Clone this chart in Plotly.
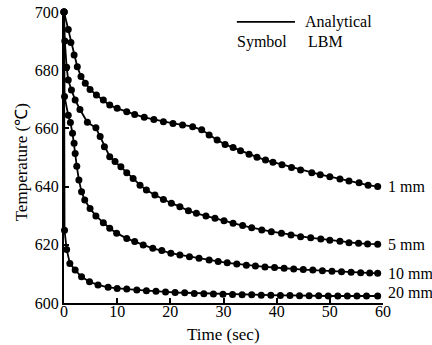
import plotly.graph_objects as go

# ---- data ----
t_1mm = [0, 0.8, 1.3, 1.9, 2.5, 3.2, 4.0, 4.9, 6.1, 7.4, 8.6, 10.0, 11.8, 13.3, 15.1, 16.9, 18.7, 20.5, 22.3, 24.2,
         25.9, 27.3, 28.8, 30.3, 31.8, 33.2, 34.8, 36.3, 37.9, 39.3, 41.0, 42.8, 44.5, 46.6, 48.2, 50.0, 51.9, 53.6,
         55.5, 57.2, 59.0]
T_1mm = [700, 694, 689.5, 685.2, 681.2, 677.8, 675.5, 673.4, 671.5, 669.8, 668.0, 666.9, 665.7, 664.8, 663.8, 663.1,
         662.3, 661.7, 661.2, 660.6, 659.5, 657.7, 656.0, 654.5, 653.4, 652.3, 651.1, 650.1, 649.1, 648.4, 647.5,
         646.6, 645.7, 644.8, 644.1, 643.4, 642.6, 641.9, 641.3, 640.5, 640.0]

t_5mm = [0, 0.15, 0.5, 0.8, 1.4, 2.1, 3.0, 4.4, 6.0, 6.8, 7.6, 8.6, 9.6, 10.7, 11.8, 13.0, 14.3, 15.5, 17.1, 18.7,
         20.2, 21.8, 23.4, 24.9, 26.7, 28.4, 30.1, 31.8, 33.6, 35.3, 37.2, 39.0, 40.9, 42.7, 44.5, 46.4, 48.3, 50.0,
         51.9, 53.6, 55.4, 57.1, 59.0]
T_5mm = [700, 690, 681, 676.6, 673.2, 669.8, 666.5, 662.1, 660.2, 657.2, 653.7, 650.3, 648.6, 646.8, 644.8, 642.8,
         640.5, 638.8, 637.1, 635.6, 634.3, 633.1, 631.7, 630.8, 629.9, 629.1, 628.3, 627.4, 626.6, 625.9, 625.1,
         624.5, 624.0, 623.4, 622.8, 622.4, 622.0, 621.6, 621.2, 620.7, 620.5, 620.3, 620.2]

t_10mm = [0, 0.1, 0.8, 1.2, 1.6, 1.9, 2.1, 2.4, 2.8, 3.3, 3.9, 4.9, 6.0, 7.4, 8.6, 9.9, 11.8, 13.3, 14.9, 16.7,
          18.4, 20.1, 21.8, 23.6, 25.4, 27.3, 29.0, 30.7, 32.5, 34.3, 36.0, 37.8, 39.6, 41.4, 43.2, 45.0, 46.8,
          48.6, 50.4, 52.2, 54.0, 55.8, 57.5, 59.0]
T_10mm = [700, 671, 664.5, 662, 658.3, 654.9, 651.4, 647, 642.3, 638.2, 635.4, 632.5, 629.9, 627.6, 625.7, 624.0,
          622.2, 621.1, 619.9, 618.8, 618.0, 617.1, 616.5, 615.9, 615.4, 614.8, 614.3, 613.8, 613.4, 613.0, 612.7,
          612.4, 612.2, 611.9, 611.7, 611.5, 611.3, 611.1, 610.9, 610.7, 610.6, 610.4, 610.3, 610.2]

t_20mm = [0, 0.1, 0.5, 1.1, 2.1, 3.3, 4.8, 6.4, 8.3, 10.0, 11.8, 13.7, 15.5, 17.3, 19.1, 20.9, 22.7, 24.5, 26.3,
          28.1, 29.9, 31.7, 33.5, 35.3, 37.1, 38.9, 40.7, 42.5, 44.3, 46.1, 47.9, 49.7, 51.5, 53.3, 55.1, 56.9, 59.0]
T_20mm = [700, 625, 618.4, 613.6, 611.3, 609.0, 607.3, 606.2, 605.4, 605.0, 604.8, 604.5, 604.2, 604.0, 603.8,
          603.6, 603.5, 603.3, 603.2, 603.1, 603.0, 602.9, 602.8, 602.8, 602.7, 602.7, 602.6, 602.6, 602.5, 602.5,
          602.5, 602.4, 602.4, 602.4, 602.4, 602.4, 602.4]

series = [("1 mm", t_1mm, T_1mm), ("5 mm", t_5mm, T_5mm), ("10 mm", t_10mm, T_10mm), ("20 mm", t_20mm, T_20mm)]
label_yshift = {"1 mm": 0, "5 mm": 0, "10 mm": 0, "20 mm": 4}

x_ticks = [0, 10, 20, 30, 40, 50, 60]
y_ticks = [600, 620, 640, 660, 680, 700]

FONT = "Liberation Serif"

fig = go.Figure()
for name, t, T in series:
    fig.add_trace(go.Scatter(x=t, y=T, mode="lines+markers", name=name,
                             line=dict(color="black", width=1.8),
                             marker=dict(color="black", size=7),
                             cliponaxis=False, showlegend=False))
    fig.add_annotation(x=60, y=T[-1], xref="x", yref="y", text=name, showarrow=False,
                       xanchor="left", yanchor="middle", xshift=3, yshift=label_yshift[name],
                       font=dict(family=FONT, size=16, color="black"))

# legend-like text block
fig.add_shape(type="line", xref="paper", yref="paper", x0=0.542, x1=0.724, y0=0.966, y1=0.966,
              line=dict(color="black", width=1.8))
fig.add_annotation(xref="paper", yref="paper", x=0.750, y=0.966, text="Analytical", showarrow=False,
                   xanchor="left", yanchor="middle", font=dict(family=FONT, size=16, color="black"))
fig.add_annotation(xref="paper", yref="paper", x=0.536, y=0.897, text="Symbol", showarrow=False,
                   xanchor="left", yanchor="middle", font=dict(family=FONT, size=16, color="black"))
fig.add_annotation(xref="paper", yref="paper", x=0.758, y=0.897, text="LBM", showarrow=False,
                   xanchor="left", yanchor="middle", font=dict(family=FONT, size=16, color="black"))

# axis titles
fig.add_annotation(xref="paper", yref="paper", x=0.499, y=-0.108, text="Time (sec)", showarrow=False,
                   xanchor="center", yanchor="middle", font=dict(family=FONT, size=17, color="black"))
fig.add_annotation(xref="paper", yref="paper", x=-0.132, y=0.483, text="Temperature (℃)", showarrow=False,
                   textangle=-90, xanchor="center", yanchor="middle",
                   font=dict(family=FONT, size=17, color="black"))

fig.update_layout(
    width=432, height=345,
    margin=dict(l=64, r=49, t=12, b=42, autoexpand=False),
    plot_bgcolor="white", paper_bgcolor="white",
    font=dict(family=FONT, size=16, color="black"),
)
fig.update_xaxes(range=[0, 60], tickvals=x_ticks, ticktext=[str(v) for v in x_ticks],
                 showline=True, linecolor="black", linewidth=2, mirror=False,
                 ticks="inside", ticklen=5, tickwidth=1.5, tickcolor="black",
                 ticklabelstandoff=-7,
                 showgrid=False, zeroline=False, automargin=False,
                 tickfont=dict(family=FONT, size=16))
fig.update_yaxes(range=[600, 700], tickvals=y_ticks, ticktext=[str(v) for v in y_ticks],
                 showline=True, linecolor="black", linewidth=2, mirror=False,
                 ticks="inside", ticklen=5, tickwidth=1.5, tickcolor="black",
                 ticklabelstandoff=0,
                 showgrid=False, zeroline=False, automargin=False,
                 tickfont=dict(family=FONT, size=16))

fig.write_html("out.html")
